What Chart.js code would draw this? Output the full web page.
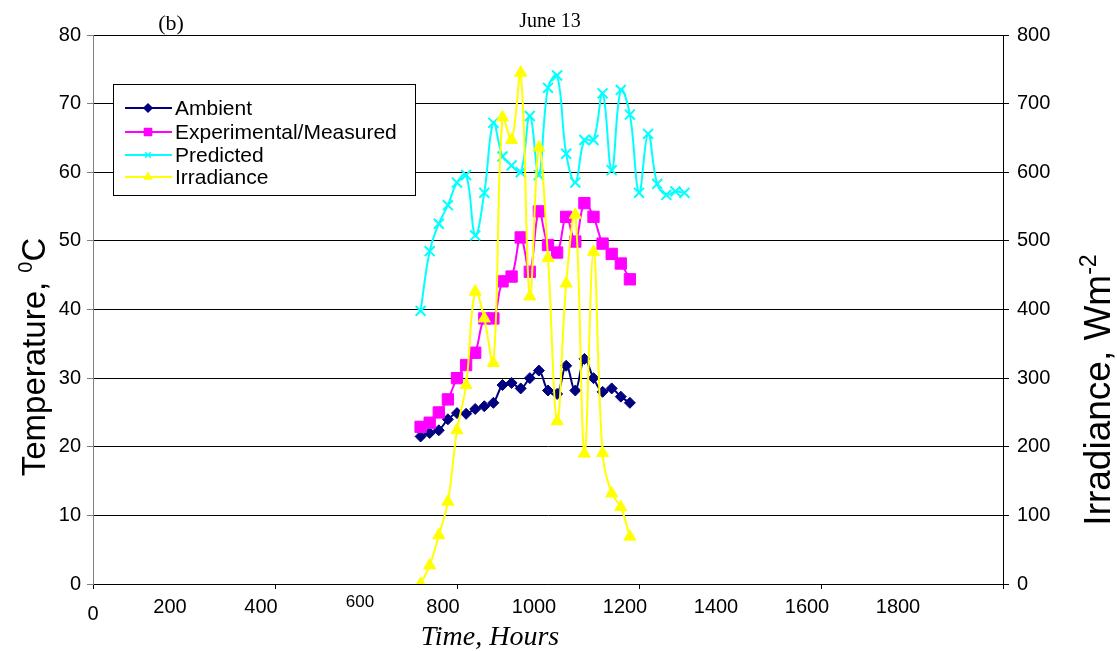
<!DOCTYPE html>
<html>
<head>
<meta charset="utf-8">
<script src="https://cdn.jsdelivr.net/npm/chart.js@4.4.1/dist/chart.umd.min.js"></script>
<style>
  body { margin: 0; background: #fff; }
  #wrap { width: 1117px; height: 651px; }
</style>
</head>
<body>
<div id="wrap"><canvas id="juneChart"></canvas></div>
<script>
// time of day (hhmm as number), one reading every 20 min
const times = [720, 740, 760, 780, 800, 820, 840, 860, 880, 900, 920, 940, 960, 980, 1000,
               1020, 1040, 1060, 1080, 1100, 1120, 1140, 1160, 1180, 1200, 1220, 1240, 1260, 1280, 1300];

const ambient = [21.5, 22.0, 22.4, 24.0, 24.9, 24.8, 25.5, 25.9, 26.4, 29.0, 29.3, 28.5,
                 30.0, 31.1, 28.2, 27.7, 31.8, 28.2, 32.8, 30.0, 28.0, 28.5, 27.3, 26.4];
const measured = [22.9, 23.5, 25.0, 26.9, 30.0, 31.9, 33.7, 38.7, 38.7, 44.1, 44.8, 50.5,
                  45.5, 54.3, 49.4, 48.3, 53.5, 49.9, 55.5, 53.5, 49.6, 48.1, 46.7, 44.4];
const predicted = [39.8, 48.5, 52.5, 55.2, 58.5, 59.6, 50.8, 57.0, 67.2, 62.3, 61.0, 60.0,
                   68.2, 59.6, 72.3, 74.1, 62.7, 58.5, 64.7, 64.7, 71.5, 60.3, 72.0, 68.4,
                   57.0, 65.6, 58.3, 56.7, 57.2, 57.0];
const irradiance = [0, 27, 71, 120, 224, 290, 426, 387, 322, 680, 647, 745,
                    419, 636, 475, 237, 438, 538, 190, 484, 191, 132, 112, 69];

const xTicks = [0, 200, 400, 600, 800, 1000, 1200, 1400, 1600, 1800, 2000];
const xMarks = [0, 400, 800, 1200, 1600, 2000];

function pts(vals) {
  return vals.map((v, i) => ({ x: times[i], y: v }));
}

const FONT = 'Liberation Sans, Arial, sans-serif';
const SERIF = 'Liberation Serif, Times New Roman, serif';

const series = [
  { label: 'Ambient', data: pts(ambient), color: '#000080', style: 'rectRot', r: 5.5, axis: 'y', order: 4 },
  { label: 'Experimental/Measured', data: pts(measured), color: '#FF00FF', style: 'rect', r: 8, axis: 'y', order: 3 },
  { label: 'Predicted', data: pts(predicted), color: '#00FFFF', style: 'crossRot', r: 7, axis: 'y', order: 2 },
  { label: 'Irradiance', data: pts(irradiance), color: '#FFFF00', style: 'triangle', r: 7, axis: 'y1', order: 1 }
];

// titles, odd x labels and the boxed legend
const extras = {
  id: 'extras',
  afterDraw(chart) {
    const c = chart.ctx;
    const xs = chart.scales.x;
    c.save();
    c.fillStyle = '#000';
    c.textAlign = 'center';
    c.textBaseline = 'alphabetic';
    c.font = '22px ' + SERIF;
    c.fillText('(b)', 171, 30);
    c.font = '20px ' + SERIF;
    c.fillText('June 13', 550, 27);
    c.font = 'italic 28px ' + SERIF;
    c.fillText('Time, Hours', 490, 645);

    c.textBaseline = 'top';
    c.font = '20px ' + FONT;
    c.fillText('0', xs.getPixelForValue(0), 604);
    c.font = '17px ' + FONT;
    c.fillText('600', xs.getPixelForValue(600) - 6, 594);

    // rotated axis titles with superscripts
    function vTitle(x, cy, size, main, sup, tail) {
      c.save();
      c.translate(x, cy);
      c.rotate(-Math.PI / 2);
      c.textAlign = 'left';
      c.textBaseline = 'alphabetic';
      c.font = size + 'px ' + FONT;
      const w1 = c.measureText(main).width;
      const w3 = c.measureText(tail).width;
      c.font = Math.round(size * 0.62) + 'px ' + FONT;
      const w2 = c.measureText(sup).width;
      let x0 = -(w1 + w2 + w3) / 2;
      c.font = size + 'px ' + FONT;
      c.fillText(main, x0, 0);
      c.font = Math.round(size * 0.62) + 'px ' + FONT;
      c.fillText(sup, x0 + w1, -size * 0.38);
      c.font = size + 'px ' + FONT;
      c.fillText(tail, x0 + w1 + w2, 0);
      c.restore();
    }
    vTitle(45, 357, 33, 'Temperature, ', '0', 'C');
    vTitle(1110, 390, 37, 'Irradiance, Wm', '-2', '');

    // legend
    c.fillStyle = '#fff';
    c.fillRect(113, 84, 302, 111);
    c.strokeStyle = '#000';
    c.lineWidth = 1;
    c.strokeRect(113.5, 84.5, 302, 111);
    const rows = [108, 132, 155, 177];
    series.forEach((s, i) => {
      const y = rows[i];
      c.strokeStyle = s.color;
      c.lineWidth = 2;
      c.beginPath();
      c.moveTo(125, y);
      c.lineTo(172, y);
      c.stroke();
      c.fillStyle = s.color;
      c.lineWidth = 1.5;
      Chart.helpers.drawPoint(c, { pointStyle: s.style, radius: s.style === 'rect' ? 5 : 4, rotation: 0, borderWidth: 1.5 }, 148, y);
      c.fillStyle = '#000';
      c.textAlign = 'left';
      c.textBaseline = 'middle';
      c.font = '21px ' + FONT;
      c.fillText(s.label, 175, y + 1);
    });
    c.restore();
  }
};

new Chart(document.getElementById('juneChart'), {
  type: 'line',
  data: {
    datasets: series.map(s => ({
      label: s.label,
      data: s.data,
      yAxisID: s.axis,
      order: s.order,
      borderColor: s.color,
      backgroundColor: s.color,
      borderWidth: 2,
      tension: 0.4,
      fill: false,
      pointStyle: s.style,
      pointRadius: s.r,
      pointBorderWidth: s.style === 'crossRot' ? 2 : 1,
      pointBackgroundColor: s.color,
      pointBorderColor: s.color
    }))
  },
  options: {
    responsive: true,
    maintainAspectRatio: false,
    animation: false,
    layout: { padding: { top: 35, left: 0, right: 0, bottom: 0 } },
    plugins: { legend: { display: false }, tooltip: { enabled: false } },
    scales: {
      x: {
        type: 'linear',
        min: 0,
        max: 2000,
        afterBuildTicks: (sc) => { sc.ticks = xTicks.map(v => ({ value: v })); },
        afterFit: (sc) => { sc.height = 67; },
        grid: {
          drawOnChartArea: false,
          tickLength: 5,
          tickColor: (ctx) => (ctx.tick && xMarks.includes(ctx.tick.value)) ? '#000' : 'rgba(0,0,0,0)'
        },
        border: { color: '#000', width: 1 },
        ticks: {
          autoSkip: false,
          maxRotation: 0,
          padding: 6,
          labelOffset: -14,
          color: '#000',
          font: { family: FONT, size: 20 },
          callback: (v) => (v === 0 || v === 600 || v === 2000) ? '' : String(v)
        }
      },
      y: {
        position: 'left',
        min: 0,
        max: 80,
        afterFit: (sc) => { sc.width = 93; },
        grid: { color: '#000', lineWidth: 1, tickLength: 6, tickColor: '#808080' },
        border: { color: '#808080', width: 1 },
        ticks: { stepSize: 10, padding: 6, color: '#000', font: { family: FONT, size: 20 } }
      },
      y1: {
        position: 'right',
        min: 0,
        max: 800,
        afterFit: (sc) => { sc.width = 114; },
        grid: { drawOnChartArea: false, tickLength: 6, tickColor: '#000' },
        border: { color: '#000', width: 1 },
        ticks: { stepSize: 100, padding: 8, color: '#000', font: { family: FONT, size: 20 } }
      }
    }
  },
  plugins: [extras]
});
</script>
</body>
</html>
